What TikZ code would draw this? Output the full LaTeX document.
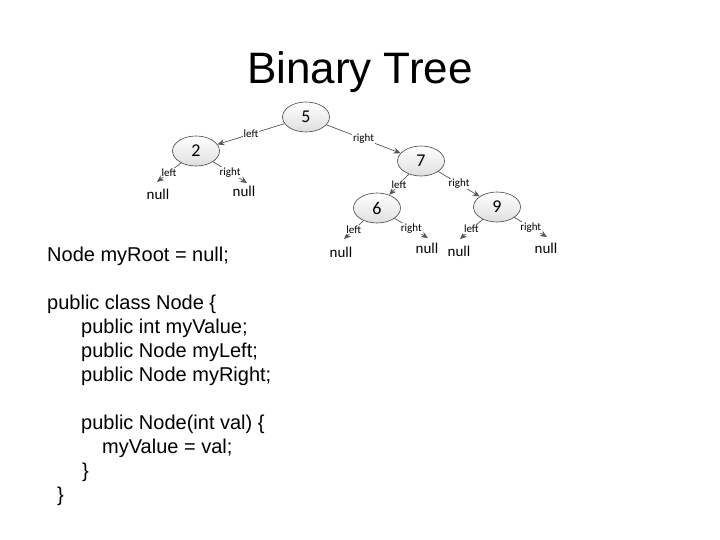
\documentclass[tikz,border=0pt]{standalone}
\usepackage{fontspec}
\setmainfont{Liberation Sans}
\newfontfamily\treefont{Carlito}
\usetikzlibrary{shapes, arrows.meta, positioning, calc}
\definecolor{edgegray}{RGB}{85, 85, 85}
\definecolor{ringgray}{RGB}{70, 70, 70}

\begin{document}
\begin{tikzpicture}[x=1pt, y=-1pt,
    treenode/.style={ellipse, draw=ringgray, line width=0.6pt, top color=white, bottom color=gray!25,
      minimum width=47pt, minimum height=30pt, inner sep=0pt, font=\treefont\fontsize{18}{18}\selectfont},
    edge/.style={draw=edgegray, line width=0.7pt, -{Stealth[length=7pt, width=6pt]}},
    lbl/.style={fill=white, inner sep=0.6pt, font=\treefont\fontsize{11}{11}\selectfont},
    nullt/.style={font=\treefont\fontsize{15}{15}\selectfont},
    codeline/.style={anchor=base west, inner sep=0pt, font=\fontsize{20}{24}\selectfont}]
  \useasboundingbox (0,0) rectangle (720,540);

  % title
  \node[anchor=base, inner sep=0pt, font=\fontsize{44}{50}\selectfont] (title) at (360,84) {Binary Tree};

  % tree
  \node[treenode] (n5) at (306,117) {5};
  \node[treenode] (n2) at (196,151) {2};
  \node[treenode] (n7) at (421,161) {7};
  \node[treenode] (n6) at (377,208) {6};
  \node[treenode] (n9) at (497,207) {9};

  \draw[edge] (n5) -- node[lbl] {left} (n2);
  \draw[edge] (n5) -- node[lbl] {right} (n7);
  \draw[edge] (n7) -- node[lbl] {left} (n6);
  \draw[edge] (n7) -- node[lbl] {right} (n9);

  % null children
  \coordinate (n2l) at (157,182);
  \coordinate (n2r) at (247,183);
  \coordinate (n6l) at (344,239);
  \coordinate (n6r) at (428,238);
  \coordinate (n9l) at (460,239);
  \coordinate (n9r) at (547,237);

  \draw[edge] (n2) -- node[lbl] {left} (n2l);
  \draw[edge] (n2) -- node[lbl] {right} (n2r);
  \draw[edge] (n6) -- node[lbl] {left} (n6l);
  \draw[edge] (n6) -- node[lbl] {right} (n6r);
  \draw[edge] (n9) -- node[lbl] {left} (n9l);
  \draw[edge] (n9) -- node[lbl] {right} (n9r);

  \node[nullt] (null2l) at (158,194) {null};
  \node[nullt] (null2r) at (244,191) {null};
  \node[nullt] (null6l) at (341,252) {null};
  \node[nullt] (null6r) at (427,248) {null};
  \node[nullt] (null9l) at (459,251) {null};
  \node[nullt] (null9r) at (546,248) {null};

  % code
  \node[codeline] (root) at (47,261) {Node myRoot = null;};
  \node[codeline] (cls) at (47,309) {public class Node \{};
  \node[codeline] (fval) at (81,333) {public int myValue;};
  \node[codeline] (fleft) at (81,357) {public Node myLeft;};
  \node[codeline] (fright) at (81,381) {public Node myRight;};
  \node[codeline] (ctor) at (81,429) {public Node(int val) \{};
  \node[codeline] (assign) at (102,453) {myValue = val;};
  \node[codeline] (cclose) at (82,477) {\}};
  \node[codeline] (kclose) at (57,501) {\}};
\end{tikzpicture}
\end{document}
